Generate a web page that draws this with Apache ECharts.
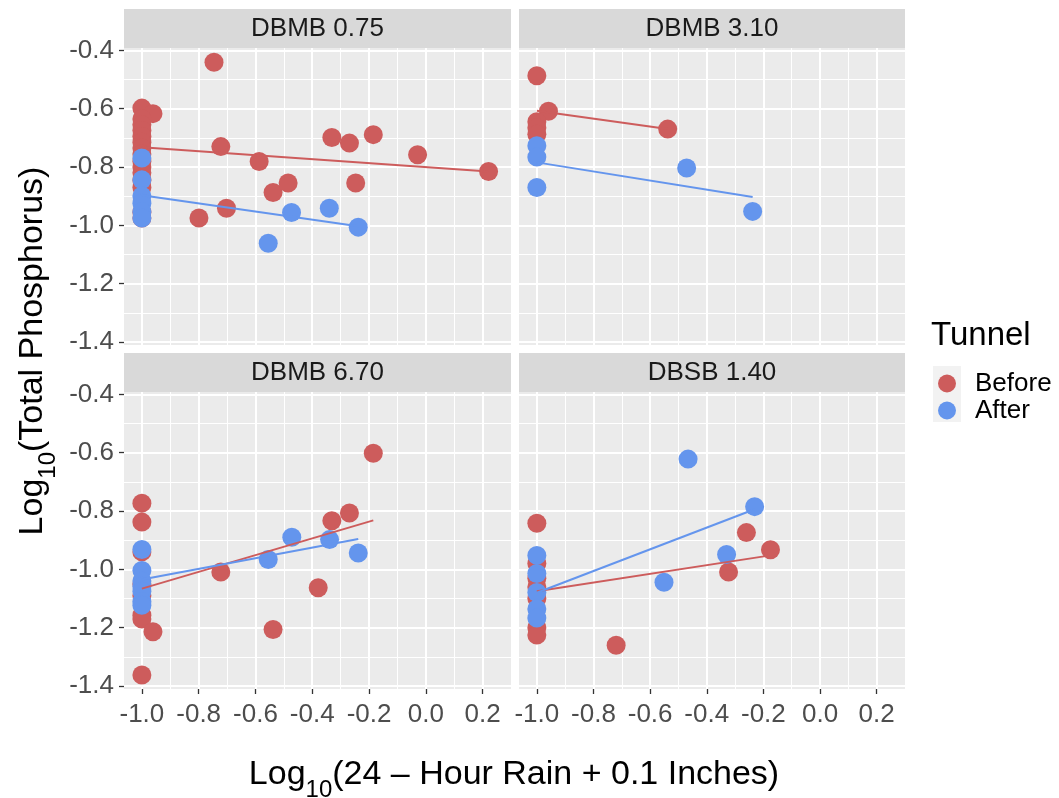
<!DOCTYPE html>
<html>
<head>
<meta charset="utf-8">
<script src="https://cdn.jsdelivr.net/npm/echarts@6.0.0/dist/echarts.min.js"></script>
<style>
  html, body { margin: 0; padding: 0; background: #fff; }
  #chart { width: 1059px; height: 798px; }
</style>
</head>
<body>
<div id="chart"></div>
<script>
// facet labels and tick values
const panelNames = ["DBMB 0.75", "DBMB 3.10", "DBMB 6.70", "DBSB 1.40"];
const xTicks = [-1.0, -0.8, -0.6, -0.4, -0.2, 0.0, 0.2];
const xMinor = [-0.9, -0.7, -0.5, -0.3, -0.1, 0.1];
const yTicks = [-1.4, -1.2, -1.0, -0.8, -0.6, -0.4];
const yMinor = [-1.3, -1.1, -0.9, -0.7, -0.5];
const xRange = [-1.063, 0.300];
const yRange = [-1.410, -0.392];

// [log10 rain, log10 TP]
const before075 = [
  [-1, -0.598], [-0.961, -0.617], [-1, -0.635], [-1, -0.655], [-1, -0.675], [-1, -0.695],
  [-1, -0.715], [-1, -0.735], [-1, -0.755], [-1, -0.78], [-1, -0.80], [-1, -0.82],
  [-1, -0.845], [-1, -0.87], [-1, -0.955], [-1, -0.975],
  [-0.746, -0.441], [-0.722, -0.730], [-0.587, -0.781], [-0.538, -0.887], [-0.485, -0.855],
  [-0.331, -0.699], [-0.269, -0.718], [-0.185, -0.689], [-0.247, -0.855], [-0.029, -0.758],
  [0.221, -0.815], [-0.799, -0.975], [-0.702, -0.941]
];
const after075 = [
  [-1, -0.769], [-1, -0.844], [-1, -0.899], [-1, -0.924], [-1, -0.953], [-1, -0.975],
  [-0.555, -1.061], [-0.473, -0.956], [-0.340, -0.941], [-0.238, -1.006]
];
const before310 = [
  [-1, -0.487], [-0.959, -0.609], [-1, -0.645], [-1, -0.665], [-1, -0.688], [-0.538, -0.670]
];
const after310 = [
  [-1, -0.727], [-1, -0.766], [-1, -0.870], [-0.471, -0.803], [-0.238, -0.952]
];
const before670 = [
  [-1, -0.773], [-1, -0.838], [-1, -0.94], [-1, -1.05], [-1, -1.09], [-1, -1.157],
  [-1, -1.17], [-1, -1.362], [-0.961, -1.214], [-0.722, -1.009], [-0.538, -1.206],
  [-0.379, -1.063], [-0.331, -0.833], [-0.269, -0.807], [-0.185, -0.602]
];
const after670 = [
  [-1, -0.932], [-1, -1.004], [-1, -1.04], [-1, -1.058], [-1, -1.075], [-1, -1.11],
  [-1, -1.123], [-0.555, -0.966], [-0.472, -0.890], [-0.339, -0.898], [-0.238, -0.944]
];
const before140 = [
  [-1, -0.842], [-1, -0.98], [-1, -1.03], [-1, -1.06], [-1, -1.10], [-1, -1.20],
  [-1, -1.225], [-0.720, -1.260], [-0.323, -1.009], [-0.260, -0.874], [-0.175, -0.933]
];
const after140 = [
  [-1, -0.952], [-1, -1.014], [-1, -1.079], [-1, -1.136], [-1, -1.167],
  [-0.551, -1.044], [-0.466, -0.622], [-0.330, -0.949], [-0.231, -0.785]
];

// fitted lm lines (end points)
const fitBefore075 = [[-1, -0.732], [0.221, -0.815]];
const fitAfter075 = [[-1, -0.897], [-0.238, -1.003]];
const fitBefore310 = [[-1, -0.607], [-0.538, -0.670]];
const fitAfter310 = [[-1, -0.784], [-0.238, -0.903]];
const fitBefore670 = [[-1, -1.066], [-0.185, -0.832]];
const fitAfter670 = [[-1, -1.035], [-0.238, -0.896]];
const fitBefore140 = [[-1, -1.075], [-0.175, -0.952]];
const fitAfter140 = [[-1, -1.08], [-0.231, -0.794]];

const panels = [
  { before: before075, after: after075, fitB: fitBefore075, fitA: fitAfter075 },
  { before: before310, after: after310, fitB: fitBefore310, fitA: fitAfter310 },
  { before: before670, after: after670, fitB: fitBefore670, fitA: fitAfter670 },
  { before: before140, after: after140, fitB: fitBefore140, fitA: fitAfter140 },
];

const RED = "#CD5C5C";
const BLUE = "#6495ED";
const FONT = "'Liberation Sans', Arial, sans-serif";

// panel boxes: left, top, width, height
const boxes = [[124, 48, 387, 297], [519, 48, 386, 297], [124, 392, 387, 297], [519, 392, 386, 297]];

const grids = [], xAxes = [], yAxes = [], series = [], graphics = [];

boxes.forEach(([l, t, w, h], i) => {
  const bottomRow = i >= 2;
  const leftCol = i % 2 === 0;
  grids.push({ left: l, top: t, width: w, height: h, show: true, backgroundColor: "#EBEBEB", borderWidth: 0, outerBoundsMode: "none" });

  // major axis + minor-grid axis, for x and y
  xAxes.push({
    type: "value", gridIndex: i, min: xRange[0], max: xRange[1], position: "bottom",
    axisLine: { show: false, onZero: false },
    axisTick: { show: bottomRow, length: 5, customValues: xTicks, lineStyle: { color: "#333333", width: 1.3 } },
    axisLabel: { show: bottomRow, customValues: xTicks, formatter: (v) => v.toFixed(1), fontSize: 26, fontFamily: FONT, color: "#4D4D4D", margin: 13 },
    splitLine: { show: true, lineStyle: { color: "#FFFFFF", width: 2 } },
  });
  xAxes.push({
    type: "value", gridIndex: i, min: xRange[0], max: xRange[1], position: "bottom",
    axisLine: { show: false, onZero: false }, axisLabel: { show: false },
    axisTick: { show: false, customValues: xMinor },
    splitLine: { show: true, lineStyle: { color: "#FFFFFF", width: 1 } },
  });
  yAxes.push({
    type: "value", gridIndex: i, min: yRange[0], max: yRange[1], position: "left",
    axisLine: { show: false, onZero: false },
    axisTick: { show: leftCol, length: 5, customValues: yTicks, lineStyle: { color: "#333333", width: 1.3 } },
    axisLabel: { show: leftCol, customValues: yTicks, formatter: (v) => v.toFixed(1), fontSize: 26, fontFamily: FONT, color: "#4D4D4D", margin: 10 },
    splitLine: { show: true, lineStyle: { color: "#FFFFFF", width: 2 } },
  });
  yAxes.push({
    type: "value", gridIndex: i, min: yRange[0], max: yRange[1], position: "left",
    axisLine: { show: false, onZero: false }, axisLabel: { show: false },
    axisTick: { show: false, customValues: yMinor },
    splitLine: { show: true, lineStyle: { color: "#FFFFFF", width: 1 } },
  });

  const p = panels[i];
  const ax = 2 * i;
  series.push(
    { type: "scatter", name: "Before", xAxisIndex: ax, yAxisIndex: ax, data: p.before, symbolSize: 19,
      itemStyle: { color: RED, opacity: 1 }, emphasis: { disabled: true }, z: 3 },
    { type: "scatter", name: "After", xAxisIndex: ax, yAxisIndex: ax, data: p.after, symbolSize: 19,
      itemStyle: { color: BLUE, opacity: 1 }, emphasis: { disabled: true }, z: 3 },
    { type: "line", name: "Before fit", xAxisIndex: ax, yAxisIndex: ax, data: p.fitB, symbol: "none",
      lineStyle: { color: RED, width: 2 }, emphasis: { disabled: true }, z: 4 },
    { type: "line", name: "After fit", xAxisIndex: ax, yAxisIndex: ax, data: p.fitA, symbol: "none",
      lineStyle: { color: BLUE, width: 2 }, emphasis: { disabled: true }, z: 4 }
  );

  // facet strip
  const stripTop = t - 39;
  graphics.push(
    { type: "rect", shape: { x: l, y: stripTop, width: w, height: 39 }, style: { fill: "#D9D9D9" }, silent: true },
    { type: "text", x: l + w / 2, y: stripTop + 20,
      style: { text: panelNames[i], fontSize: 26, fontFamily: FONT, fill: "#1A1A1A", align: "center", verticalAlign: "middle" }, silent: true }
  );
});

const titleRich = {
  m: { fontSize: 34, fontFamily: FONT, lineHeight: 54, fill: "#000000" },
  s: { fontSize: 24, fontFamily: FONT, lineHeight: 24, verticalAlign: "bottom", fill: "#000000" },
};

graphics.push(
  { type: "text", x: 514, y: 775,
    style: { text: "{m|Log}{s|10}{m|(24 – Hour Rain + 0.1 Inches)}", rich: titleRich, align: "center", verticalAlign: "middle" }, silent: true },
  { type: "text", x: 33, y: 351, rotation: Math.PI / 2,
    style: { text: "{m|Log}{s|10}{m|(Total Phosphorus)}", rich: titleRich, align: "center", verticalAlign: "middle" }, silent: true },
  { type: "text", x: 931, y: 336,
    style: { text: "Tunnel", fontSize: 33, fontFamily: FONT, fill: "#000000", align: "left", verticalAlign: "middle" }, silent: true },
  { type: "rect", z: -1, shape: { x: 933, y: 366, width: 28, height: 56 }, style: { fill: "#F2F2F2" }, silent: true }
);

const chart = echarts.init(document.getElementById("chart"), null, { renderer: "canvas" });
chart.setOption({
  animation: false,
  backgroundColor: "#FFFFFF",
  grid: grids,
  xAxis: xAxes,
  yAxis: yAxes,
  series: series,
  legend: {
    data: ["Before", "After"],
    orient: "vertical",
    left: 938,
    top: 370,
    padding: 0,
    itemGap: 0,
    itemWidth: 18,
    itemHeight: 18,
    icon: "circle",
    selectedMode: false,
    textStyle: { fontSize: 26, fontFamily: FONT, color: "#000000", lineHeight: 27, padding: [0, 0, 0, 14] },
  },
  graphic: graphics,
});
</script>
</body>
</html>
